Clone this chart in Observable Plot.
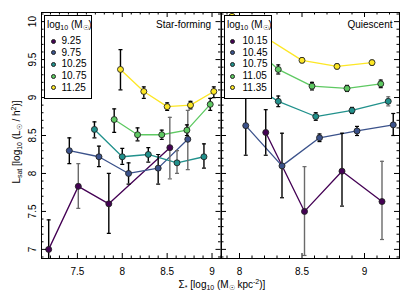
<!DOCTYPE html>
<html><head><meta charset="utf-8">
<script src="https://cdn.jsdelivr.net/npm/d3@7"></script>
<script src="https://cdn.jsdelivr.net/npm/@observablehq/plot@0.6"></script>
<style>
body{margin:0;background:#fff;}
#chart{position:relative;width:411px;height:294px;font-family:"Liberation Sans",Arial,sans-serif;color:#000;overflow:hidden;}
#chart svg{position:absolute;top:0;overflow:visible;}
.legend{position:absolute;background:#fff;border:1px solid #000;box-sizing:border-box;font-size:10px;}
.legend .t{position:absolute;white-space:nowrap;line-height:10px;}
.legend .d{position:absolute;width:5px;height:5px;border-radius:50%;border:0.8px solid #222;box-sizing:border-box;}
.lab{position:absolute;white-space:nowrap;font-size:10px;line-height:12px;}
sub{font-size:7px;vertical-align:-2px;line-height:0;}
sup{font-size:7px;vertical-align:4px;line-height:0;}
</style></head><body><div id="chart"></div>
<script>
const palette = ["#440154","#3b528b","#21918c","#5ec962","#fde725"];

// Star-forming panel
const sfMasses = ["9.25","9.75","10.25","10.75","11.25"];
const sfSigma = [
  [7.18, 7.51, 7.85, 8.53],
  [7.41, 7.74, 8.07, 8.40, 8.73],
  [7.69, 8.00, 8.29, 8.61, 8.91],
  [7.91, 8.17, 8.44, 8.72, 8.98],
  [7.98, 8.24, 8.50, 8.76, 9.02]
];
const sfLsat = [
  [7.00, 7.83, 7.60, 8.34],
  [8.30, 8.22, 8.00, 8.07, 8.45],
  [8.58, 8.22, 8.25, 8.14, 8.22],
  [8.71, 8.51, 8.51, 8.57, 8.91],
  [9.37, 9.08, 8.88, 8.90, 9.08]
];
const sfLo = [
  [6.60, 7.54, 7.21, 7.93],
  [8.13, 8.09, 7.86, 7.86, 8.05],
  [8.47, 8.12, 8.15, 8.00, 8.07],
  [8.54, 8.43, 8.45, 8.50, 8.83],
  [9.10, 8.99, 8.83, 8.85, 9.00]
];
const sfHi = [
  [7.39, 8.13, 8.00, 8.74],
  [8.47, 8.36, 8.14, 8.25, 8.83],
  [8.68, 8.33, 8.34, 8.30, 8.39],
  [8.85, 8.60, 8.57, 8.64, 8.99],
  [9.63, 9.14, 8.93, 8.95, 9.14]
];
const sfErrGrey = [
  [0,1,0,1],
  [0,0,0,0,1],
  [0,0,0,1,0],
  [0,0,0,0,0],
  [0,0,0,0,0]
];

// Quiescent panel
const qMasses = ["10.15","10.45","10.75","11.05","11.35"];
const qSigma = [
  [8.21, 8.52, 8.82, 9.14],
  [8.05, 8.34, 8.64, 8.94, 9.23],
  [8.05, 8.31, 8.61, 8.90, 9.19],
  [8.05, 8.31, 8.58, 8.86, 9.13],
  [7.94, 8.50, 8.78, 9.06]
];
const qLsat = [
  [8.54, 7.50, 8.03, 7.63],
  [8.63, 8.10, 8.47, 8.56, 8.64],
  [9.22, 8.95, 8.75, 8.83, 8.95],
  [9.75, 9.37, 9.15, 9.12, 9.18],
  [10.07, 9.49, 9.41, 9.46]
];
const qLo = [
  [8.24, 6.92, 7.57, 7.13],
  [8.24, 7.68, 8.42, 8.50, 8.50],
  [9.15, 8.88, 8.70, 8.79, 8.89],
  [9.70, 9.31, 9.10, 9.08, 9.13],
  [10.00, 9.46, 9.38, 9.43]
];
const qHi = [
  [8.84, 8.09, 8.53, 8.16],
  [9.02, 8.53, 8.52, 8.62, 8.79],
  [9.29, 9.02, 8.80, 8.87, 9.01],
  [9.80, 9.43, 9.20, 9.16, 9.23],
  [10.14, 9.52, 9.44, 9.49]
];
const qErrGrey = [
  [0,1,0,1],
  [0,0,0,0,0],
  [0,0,0,0,1],
  [0,0,0,0,0],
  [0,0,0,0,0]
];

// Tick labels
const yTicks = [7, 7.5, 8, 8.5, 9, 9.5, 10];
const yTickLabels = ["7","7.5","8","8.5","9","9.5","10"];
const sfXTicks = [7.5, 8, 8.5, 9];
const sfXTickLabels = ["7.5","8","8.5","9"];
const qXTicks = [8, 8.5, 9];
const qXTickLabels = ["8","8.5","9"];

function buildRows(masses, X, Y, LO, HI, GREY) {
  return masses.flatMap((m, i) => X[i].map((x, j) => ({
    mass: m, color: palette[i], x, y: Y[i][j], lo: LO[i][j], hi: HI[i][j],
    err: GREY[i][j] ? "#6a6a6a" : "#000000"
  })));
}
const capSymbol = {draw(ctx, size){ const r = Math.sqrt(size/Math.PI); ctx.moveTo(-r,0); ctx.lineTo(r,0); }};

const yMinor = d3.range(69, 102).map(d => d/10).filter(d => Math.round(d*10) % 5 !== 0);

function panel(o) {
  const H = 294, mt = 12, mb = 36;
  const fw = o.width - o.ml - o.mr, fh = H - mt - mb;
  const majL = 5, minL = 2.5;
  const xMinor = d3.range(Math.ceil(o.xDomain[0]*10), Math.floor(o.xDomain[1]*10)+1)
    .map(d => d/10).filter(d => Math.round(d*10) % 5 !== 0);
  const marks = [
    Plot.line(o.rows, {x:"x", y:"y", z:"mass", stroke:"color", strokeWidth:1.3, clip:true}),
    Plot.ruleX(o.rows, {x:"x", y1:"lo", y2:"hi", stroke:"err", strokeWidth:1.4, clip:true}),
    Plot.dot(o.rows, {x:"x", y:"lo", symbol:capSymbol, r:2, stroke:"err", strokeWidth:1.2, clip:true}),
    Plot.dot(o.rows, {x:"x", y:"hi", symbol:capSymbol, r:2, stroke:"err", strokeWidth:1.2, clip:true}),
    Plot.dot(o.rows, {x:"x", y:"y", r:3, fill:"color", stroke:"#222", strokeWidth:0.9, clip:true}),
    Plot.tickX(o.xTicks, {x:d=>d, insetTop:fh-majL, stroke:"#000"}),
    Plot.tickX(o.xTicks, {x:d=>d, insetBottom:fh-majL, stroke:"#000"}),
    Plot.tickX(xMinor, {x:d=>d, insetTop:fh-minL, stroke:"#000"}),
    Plot.tickX(xMinor, {x:d=>d, insetBottom:fh-minL, stroke:"#000"}),
    Plot.tickY(yTicks, {y:d=>d, insetRight:fw-majL, stroke:"#000"}),
    Plot.tickY(yTicks, {y:d=>d, insetLeft:fw-majL, stroke:"#000"}),
    Plot.tickY(yMinor, {y:d=>d, insetRight:fw-minL, stroke:"#000"}),
    Plot.tickY(yMinor, {y:d=>d, insetLeft:fw-minL, stroke:"#000"}),
    Plot.frame({stroke:"#000", strokeWidth:1}),
    Plot.text(o.xTicks, {x:d=>d, text:(d,i)=>o.xTickLabels[i], frameAnchor:"bottom", dy:13, lineAnchor:"middle", fontSize:10}),
    Plot.text([o.title], {text:d=>d, frameAnchor:"top-right", dx:o.titleDx, dy:12, textAnchor:"end", lineAnchor:"middle", fontSize:10})
  ];
  if (o.yLabels) marks.push(Plot.text(yTicks, {y:d=>d, text:(d,i)=>yTickLabels[i], frameAnchor:"left", rotate:-90, dx:-6, lineAnchor:"bottom", textAnchor:"middle", fontSize:10}));
  const svg = Plot.plot({
    width:o.width, height:H, marginLeft:o.ml, marginRight:o.mr, marginTop:mt, marginBottom:mb,
    x:{domain:o.xDomain, axis:null}, y:{domain:[6.88,10.12], axis:null}, color:{type:"identity"},
    style:{fontFamily:"Liberation Sans, Arial, sans-serif", fontSize:"10px", color:"#000", background:"transparent", overflow:"visible"},
    marks
  });
  svg.style.left = o.left + "px";
  return svg;
}

const chart = document.getElementById("chart");
chart.appendChild(panel({
  rows: buildRows(sfMasses, sfSigma, sfLsat, sfLo, sfHi, sfErrGrey),
  width:222, left:0, ml:41, mr:1.5, xDomain:[7.1, 9.1],
  xTicks:sfXTicks, xTickLabels:sfXTickLabels, title:"Star-forming", titleDx:-10, yLabels:true
}));
chart.appendChild(panel({
  rows: buildRows(qMasses, qSigma, qLsat, qLo, qHi, qErrGrey),
  width:192, left:219, ml:2, mr:12, xDomain:[7.856, 9.28],
  xTicks:qXTicks, xTickLabels:qXTickLabels, title:"Quiescent", titleDx:-7, yLabels:false
}));

function legend(masses, left, dotX, textX) {
  const box = document.createElement("div");
  box.className = "legend";
  box.style.left = left + "px"; box.style.top = "15px";
  box.style.width = "48px"; box.style.height = "84px";
  const title = document.createElement("div");
  title.className = "t";
  title.style.left = "2px"; title.style.top = "4px";
  title.innerHTML = "log<sub>10</sub> (M<sub>☉</sub>)";
  box.appendChild(title);
  const ys = [41, 52.7, 64.4, 76.1, 87.8];
  masses.forEach((m, i) => {
    const d = document.createElement("div");
    d.className = "d";
    d.style.background = palette[i];
    d.style.left = (dotX - left - 1 - 2.5) + "px";
    d.style.top = (ys[i] - 15 - 1 - 2.5) + "px";
    box.appendChild(d);
    const t = document.createElement("div");
    t.className = "t";
    t.textContent = m;
    t.style.left = (textX - left - 1) + "px";
    t.style.top = (ys[i] - 15 - 1 - 5) + "px";
    box.appendChild(t);
  });
  chart.appendChild(box);
}
legend(sfMasses, 44, 53.3, 61.5);
legend(qMasses, 224, 232.7, 242.5);

const yl = document.createElement("div");
yl.className = "lab";
yl.style.left = "17px"; yl.style.top = "142px";
yl.style.transform = "translate(-50%,-50%) rotate(-90deg)";
yl.innerHTML = "L<sub>sat</sub> [log<sub>10</sub> (L<sub>☉</sub> / h<sup>2</sup>)]";
chart.appendChild(yl);

const xl = document.createElement("div");
xl.className = "lab";
xl.style.left = "222px"; xl.style.top = "285px";
xl.style.transform = "translate(-50%,-50%)";
xl.innerHTML = "Σ<sub>*</sub> [log<sub>10</sub> (M<sub>☉</sub> kpc<sup>-2</sup>)]";
chart.appendChild(xl);
</script>
</body></html>
